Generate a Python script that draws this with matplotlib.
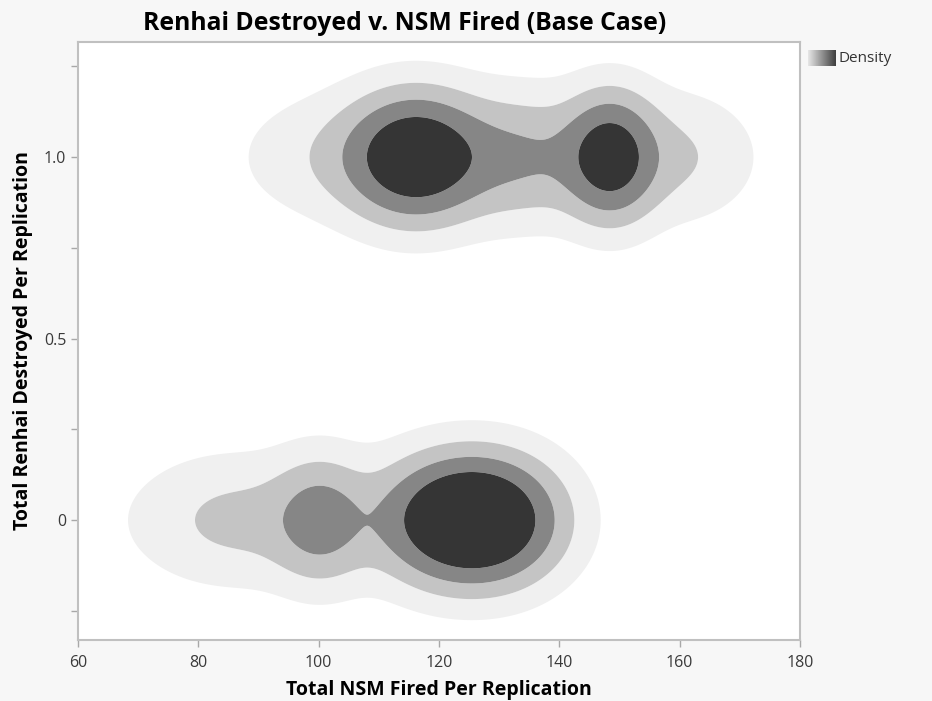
import numpy as np
import matplotlib.pyplot as plt

# kernel components (NSM fired centre, spread, weight)
upper_mu = [105, 116, 132, 133, 148.5, 160]
upper_sd = [10, 6.5, 16, 7, 4.5, 7]
upper_w = [0.1, 0.83, 0.2, 0.12, 0.7, 0.1]

lower_mu = [84, 100.2, 100, 120, 127.5]
lower_sd = [8, 4.7, 16, 6.5, 7.2]
lower_w = [0.08, 0.31, 0.13, 0.4, 1.05]

renhai_values = [1.0, 0.0]
y_spread = 0.1

levels = [0.03, 0.125, 0.29, 0.55, 10]
shades = ['#f0f0f0', '#c4c4c4', '#868686', '#353535']

x_ticks = [60, 80, 100, 120, 140, 160, 180]
y_ticks = [0, 0.5, 1.0]
y_tick_labels = ['0', '0.5', '1.0']

fig = plt.figure(figsize=(9.32, 7.01), dpi=100, facecolor='#f7f7f7')
ax = fig.add_axes([78 / 932, 1 - 640 / 701, 722 / 932, 598 / 701])
ax.set_facecolor('white')

xs = np.linspace(60, 180, 700)
ys = np.linspace(-0.33, 1.32, 500)
X, Y = np.meshgrid(xs, ys)
Z = np.zeros_like(X)
for yv, mus, sds, ws in [(renhai_values[0], upper_mu, upper_sd, upper_w),
                         (renhai_values[1], lower_mu, lower_sd, lower_w)]:
    fx = np.zeros_like(X)
    for m, s, w in zip(mus, sds, ws):
        fx += w * np.exp(-(X - m) ** 2 / (2 * s ** 2))
    Z += fx * np.exp(-(Y - yv) ** 2 / (2 * y_spread ** 2))

ax.contourf(X, Y, Z, levels=levels, colors=shades, antialiased=True)

ax.set_xlim(60, 180)
ax.set_ylim(-0.33, 1.317)
ax.set_xticks(x_ticks)
ax.set_yticks(y_ticks)
ax.set_yticklabels(y_tick_labels)
ax.set_yticks([-0.25, 0.25, 0.75, 1.25], minor=True)
for sp in ax.spines.values():
    sp.set_color('#c0c0c0')
    sp.set_linewidth(1.5)
ax.tick_params(which='both', direction='out', length=5, width=1, color='#a8a8a8',
               labelsize=11.5, labelcolor='#3a3a3a')
ax.tick_params(axis='x', pad=6)
for lab in ax.get_xticklabels() + ax.get_yticklabels():
    lab.set_family('Open Sans')

ax.set_xlabel('Total NSM Fired Per Replication', fontsize=14, fontweight='bold',
              family='Open Sans', labelpad=6)
ax.set_ylabel('Total Renhai Destroyed Per Replication', fontsize=14, fontweight='bold',
              family='Open Sans', labelpad=8)

fig.text(405 / 932, 1 - 23 / 701, 'Renhai Destroyed v. NSM Fired (Base Case)',
         ha='center', va='center', fontsize=17.8, fontweight='bold', family='Open Sans')

# legend swatch
lax = fig.add_axes([808 / 932, 1 - 66 / 701, 28 / 932, 16 / 701])
lax.imshow(np.linspace(0.9, 0.25, 50)[None, :], cmap='gray', vmin=0, vmax=1,
           aspect='auto')
lax.set_xticks([])
lax.set_yticks([])
for sp in lax.spines.values():
    sp.set_visible(False)
fig.text(839 / 932, 1 - 58 / 701, 'Density', ha='left', va='center', fontsize=11,
         family='Open Sans', color='#333333')

fig.savefig('out.png', dpi=100, facecolor=fig.get_facecolor())
